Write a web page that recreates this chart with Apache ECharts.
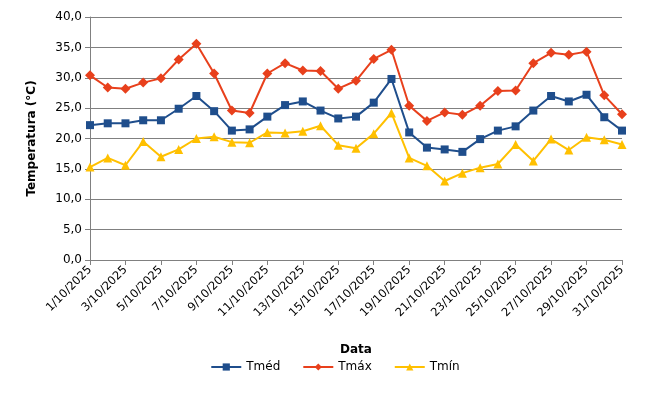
<!DOCTYPE html>
<html><head><meta charset="utf-8">
<script src="https://cdn.jsdelivr.net/npm/echarts@6/dist/echarts.min.js"></script>
<style>body{margin:0}#c{width:670px;height:400px}</style></head>
<body><div id="c"></div>
<script>
const days = []
for (let d = 1; d <= 31; d++) days.push(d + '/10/2025')
const tmed = [22.2, 22.5, 22.5, 23.0, 23.0, 24.9, 27.0, 24.5, 21.3, 21.5, 23.6, 25.5, 26.1, 24.6, 23.3, 23.6, 25.9, 29.8, 21.0, 18.5, 18.2, 17.8, 19.9, 21.3, 22.0, 24.6, 27.0, 26.1, 27.2, 23.5, 21.3]
const tmax = [30.4, 28.4, 28.2, 29.2, 29.9, 33.0, 35.6, 30.7, 24.6, 24.2, 30.7, 32.4, 31.2, 31.1, 28.2, 29.5, 33.1, 34.6, 25.4, 22.9, 24.3, 23.9, 25.4, 27.8, 27.9, 32.4, 34.1, 33.8, 34.3, 27.1, 24.0]
const tmin = [15.3, 16.8, 15.6, 19.5, 17.0, 18.2, 20.0, 20.3, 19.4, 19.3, 21.0, 20.9, 21.2, 22.1, 18.9, 18.4, 20.8, 24.2, 16.8, 15.5, 13.0, 14.3, 15.2, 15.8, 19.0, 16.3, 19.9, 18.1, 20.2, 19.8, 19.0]

let chart = echarts.init(document.getElementById('c'))
const font = 'DejaVu Sans'
const mk = (name, data, color, symbol, size) => ({
  name, type: 'line', data, symbol, symbolSize: size,
  lineStyle: { color, width: 2 }, itemStyle: { color },
})
chart.setOption({
  textStyle: { fontFamily: font },
  grid: { left: 90, right: 48, top: 17, bottom: 140 },
  legend: {
    bottom: 22, itemWidth: 30, itemHeight: 9, itemGap: 22,
    textStyle: { fontFamily: font, fontSize: 12, color: '#000' },
    data: ['Tméd', 'Tmáx', 'Tmín'],
  },
  xAxis: {
    type: 'category', data: days, boundaryGap: false,
    name: 'Data', nameLocation: 'middle', nameGap: 84,
    nameTextStyle: { fontWeight: 'bold', fontSize: 12, color: '#000', fontFamily: font },
    axisLine: { lineStyle: { color: '#808080' } },
    axisTick: { show: true, alignWithLabel: true, lineStyle: { color: '#808080' } },
    axisLabel: { interval: 1, rotate: 45, fontSize: 11.5, color: '#000', fontFamily: font },
  },
  yAxis: {
    type: 'value', min: 0, max: 40, interval: 5,
    name: 'Temperatura (°C)', nameLocation: 'middle', nameGap: 52,
    nameTextStyle: { fontWeight: 'bold', fontSize: 12, color: '#000', fontFamily: font },
    axisLine: { show: true, lineStyle: { color: '#808080' } },
    axisTick: { show: true, lineStyle: { color: '#808080' } },
    splitLine: { lineStyle: { color: '#808080' } },
    axisLabel: { fontSize: 12, color: '#000', fontFamily: font, formatter: v => v.toFixed(1).replace('.', ',') },
  },
  series: [
    mk('Tméd', tmed, '#1F4E8C', 'rect', 8),
    mk('Tmáx', tmax, '#E8401C', 'diamond', 10),
    mk('Tmín', tmin, '#FFC000', 'triangle', 9),
  ],
})
</script></body></html>
